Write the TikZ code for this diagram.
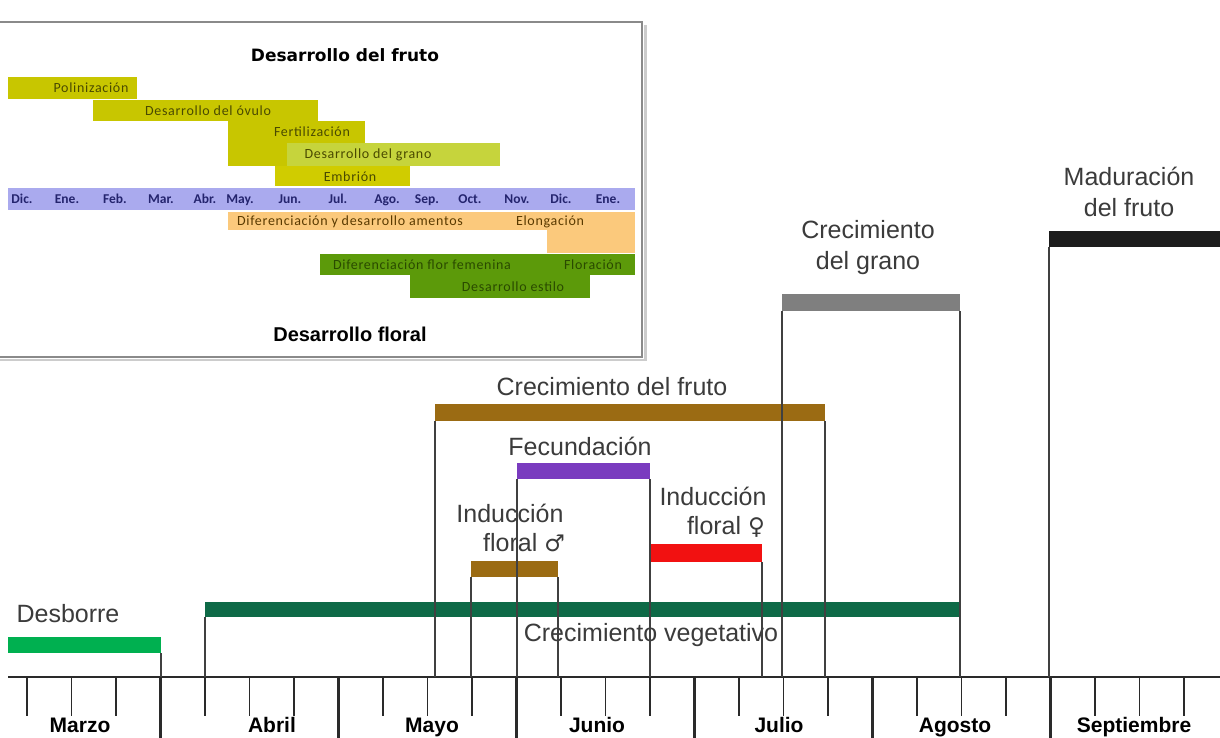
\documentclass[tikz,border=0pt]{standalone}
\usepackage{fontspec}
\setmainfont{Liberation Sans}
\newfontfamily\calib[LetterSpace=5]{Carlito}
\newfontfamily\calibm{Carlito}
\newfontfamily\dejab{DejaVu Sans}
\newfontfamily\symf{DejaVu Sans}
\newcommand\myfs[1]{\fontsize{#1}{#1}\selectfont}
\definecolor{labgray}{HTML}{3B3B3B}
\definecolor{linegray}{HTML}{404040}
\definecolor{tickc}{HTML}{2A2A2A}
\definecolor{desbc}{HTML}{00B050}
\definecolor{vegc}{HTML}{0E6A47}
\definecolor{brownc}{HTML}{9B6B13}
\definecolor{purpc}{HTML}{7A3BBF}
\definecolor{redc}{HTML}{F21111}
\definecolor{grayc}{HTML}{7F7F7F}
\definecolor{blackc}{HTML}{1C1C1C}
\definecolor{yelc}{HTML}{C8C600}
\definecolor{yel2c}{HTML}{C6D43C}
\definecolor{yel3c}{HTML}{D0CC00}
\definecolor{bandc}{HTML}{AAAAEE}
\definecolor{orac}{HTML}{FBC97C}
\definecolor{grnc}{HTML}{5C9A0A}
\definecolor{ytext}{HTML}{4A4A00}
\definecolor{otext}{HTML}{5A3A00}
\definecolor{gtext}{HTML}{2A4A00}
\definecolor{mtext}{HTML}{24246E}
\definecolor{boxc}{HTML}{8A8A8A}
\begin{document}
\begin{tikzpicture}[x=1pt,y=-1pt,
  bar/.style={draw=none,inner sep=0,outer sep=0,anchor=north west},
  lbl/.style={text=labgray,font=\myfs{25},inner sep=0},
  mon/.style={text=black,font=\bfseries\myfs{21},inner sep=0,anchor=base},
  vline/.style={draw=linegray,line width=1.2},
  stick/.style={draw=tickc,line width=1.8},
  ltick/.style={draw=tickc,line width=2.8},
  small/.style={font=\calib\myfs{14},inner sep=0},
  mlab/.style={font=\calibm\bfseries\myfs{13.5},text=mtext,inner sep=0,anchor=base}]
\useasboundingbox (0,0) rectangle (1220,738);
\fill[white] (0,0) rectangle (1220,738);

% ---------- inset ----------
\draw[black!20,line width=2.5] (-5,360) -- (645.5,360) -- (645.5,25);
\draw[boxc,line width=2] (-5,22) rectangle (642,357);

\node[bar,fill=yelc,minimum width=129,minimum height=22] (pol) at (8,77) {};
\node[bar,fill=yelc,minimum width=225,minimum height=21] (ovu) at (93,100) {};
\node[bar,fill=yelc,minimum width=137,minimum height=45] (fert) at (228,121) {};
\node[bar,fill=yel2c,minimum width=213,minimum height=23] (gra) at (287,143) {};
\node[bar,fill=yel3c,minimum width=135,minimum height=20] (emb) at (275,166) {};
\node[bar,fill=bandc,minimum width=627,minimum height=22] (band) at (8,188) {};
\node[bar,fill=orac,minimum width=407,minimum height=18] (dif) at (228,212) {};
\node[bar,fill=orac,minimum width=88,minimum height=41] (elo) at (547,212) {};
\node[bar,fill=grnc,minimum width=315,minimum height=21] (flor) at (320,254) {};
\node[bar,fill=grnc,minimum width=180,minimum height=23] (est) at (410,275) {};

\node[font=\dejab\bfseries\myfs{17},inner sep=0] (tfru) at (345,55) {Desarrollo del fruto};
\node[font=\bfseries\myfs{20},inner sep=0] (tflo) at (350,334) {Desarrollo floral};

\node[small,text=ytext] (tpol) at (91,88) {Polinización};
\node[small,text=ytext] (tovu) at (208,111) {Desarrollo del óvulo};
\node[small,text=ytext] (tfert) at (312,132) {Fertilización};
\node[small,text=ytext] (tgra) at (368,155) {Desarrollo del grano};
\node[small,text=ytext] (temb) at (350,177) {Embrión};
\node[small,text=otext] (tdif) at (350,222) {Diferenciación y desarrollo amentos};
\node[small,text=otext] (telo) at (550,222) {Elongación};
\node[small,text=gtext] (tflor) at (422,265) {Diferenciación flor femenina};
\node[small,text=gtext] (tflo2) at (593,265) {Floración};
\node[small,text=gtext] (test) at (513,287) {Desarrollo estilo};

\foreach \x/\m [count=\i] in {22/Dic.,67/Ene.,115/Feb.,161/Mar.,205/Abr.,240/May.,290/Jun.,338/Jul.,387/Ago.,427/Sep.,470/Oct.,517/Nov.,561/Dic.,608/Ene.}
  \node[mlab] (m\i) at (\x,203.5) {\m};

% ---------- main bars ----------
\node[bar,fill=desbc,minimum width=153,minimum height=16] (desb) at (8,637) {};
\node[bar,fill=vegc,minimum width=755,minimum height=15] (veg) at (205,602) {};
\node[bar,fill=brownc,minimum width=390,minimum height=17] (fruto) at (435,404) {};
\node[bar,fill=brownc,minimum width=87,minimum height=16] (mind) at (471,561) {};
\node[bar,fill=purpc,minimum width=133,minimum height=16] (fec) at (517,463) {};
\node[bar,fill=redc,minimum width=112,minimum height=18] (find) at (650,544) {};
\node[bar,fill=grayc,minimum width=178,minimum height=17] (grano) at (782,294) {};
\node[bar,fill=blackc,minimum width=180,minimum height=16] (madur) at (1049,231) {};

% ---------- labels ----------
\node[lbl] (ldesb) at (68,614) {Desborre};
\node[lbl] (lveg) at (651,635) {Crecimiento vegetativo};
\node[lbl] (lmind1) at (510,513) {Inducción};
\node[lbl] (lmind2) at (524,543) {floral {\symf\myfs{23}♂}};
\node[lbl] (lfind1) at (713,496) {Inducción};
\node[lbl] (lfind2) at (726,527) {floral {\symf\myfs{23}♀}};
\node[lbl] (lfec) at (580,446) {Fecundación};
\node[lbl] (lfruto) at (612,387) {Crecimiento del fruto};
\node[lbl] (lgr1) at (868,230) {Crecimiento};
\node[lbl] (lgr2) at (868,263) {del grano};
\node[lbl] (lmad1) at (1129,176) {Maduración};
\node[lbl] (lmad2) at (1129,208) {del fruto};

% ---------- axis ----------
\coordinate (ax) at (0,677);
\coordinate (axl) at (8,677);
\coordinate (axr) at (1220,677);
\draw[draw=tickc,line width=2] (axl) -- (axr);
\foreach \k in {0,...,26}{
  \pgfmathtruncatemacro\r{mod(\k+1,4)}
  \ifnum\r=0
    \draw[ltick] (27+44.5*\k,677) -- (27+44.5*\k,743);
  \else
    \draw[stick] (27+44.5*\k,677) -- (27+44.5*\k,716);
  \fi
}

% ---------- vertical connectors ----------
\draw[vline] (desb.south east) -- (desb.south east |- ax);
\draw[vline] (veg.south west) -- (veg.south west |- ax);
\draw[vline] (veg.south east) -- (veg.south east |- ax);
\draw[vline] (fruto.south west) -- (fruto.south west |- ax);
\draw[vline] (fruto.south east) -- (fruto.south east |- ax);
\draw[vline] (mind.south west) -- (mind.south west |- ax);
\draw[vline] (mind.south east) -- (mind.south east |- ax);
\draw[vline] (fec.south west) -- (fec.south west |- ax);
\draw[vline] (fec.south east) -- (fec.south east |- ax);
\draw[vline] (find.south east) -- (find.south east |- ax);
\draw[vline] (grano.south west) -- (grano.south west |- ax);
\draw[vline] (grano.south east) -- (grano.south east |- ax);
\draw[vline] (madur.south west) -- (madur.south west |- ax);

% ---------- month names ----------
\node[mon] (mar) at (80,732) {Marzo};
\node[mon] (abr) at (272,732) {Abril};
\node[mon] (may) at (432,732) {Mayo};
\node[mon] (jun) at (597,732) {Junio};
\node[mon] (jul) at (779,732) {Julio};
\node[mon] (ago) at (955,732) {Agosto};
\node[mon] (sep) at (1134,732) {Septiembre};
\end{tikzpicture}
\end{document}
